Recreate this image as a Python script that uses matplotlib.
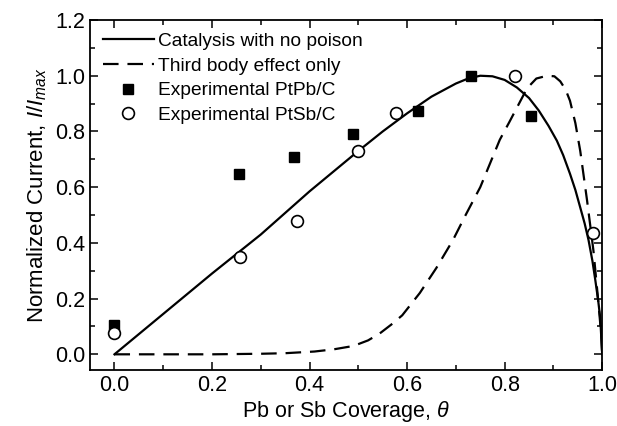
import numpy as np
import matplotlib.pyplot as plt
from matplotlib.ticker import MultipleLocator

plt.rcParams['font.family'] = ['Liberation Sans', 'DejaVu Sans']
plt.rcParams['mathtext.fontset'] = 'custom'
plt.rcParams['mathtext.rm'] = 'Liberation Sans'
plt.rcParams['mathtext.it'] = 'Liberation Sans:italic'

# solid model curve
theta_solid = [0.0, 0.1, 0.2, 0.3, 0.4, 0.5, 0.55, 0.6, 0.65, 0.7, 0.725, 0.75, 0.775,
               0.8, 0.825, 0.85, 0.87, 0.89, 0.907, 0.92, 0.934, 0.945, 0.955, 0.964,
               0.972, 0.98, 0.986, 0.992, 0.996, 1.0]
i_solid = [0.0, 0.145, 0.29, 0.43, 0.585, 0.73, 0.80, 0.865, 0.925, 0.972, 0.990, 1.0, 0.998,
           0.985, 0.958, 0.92, 0.875, 0.82, 0.767, 0.715, 0.648, 0.59, 0.527, 0.47,
           0.41, 0.335, 0.265, 0.19, 0.13, 0.0]

# dashed model curve
theta_dash = [0.0, 0.1, 0.2, 0.3, 0.35, 0.41, 0.45, 0.49, 0.52, 0.544, 0.57, 0.59, 0.626,
              0.66, 0.694, 0.72, 0.75, 0.77, 0.79, 0.81, 0.825, 0.846, 0.865, 0.887,
              0.902, 0.914, 0.925, 0.934, 0.945, 0.955, 0.969, 0.982, 0.992, 0.998, 1.0]
i_dash = [0.0, 0.0, 0.0, 0.002, 0.004, 0.01, 0.018, 0.03, 0.05, 0.075, 0.11, 0.14, 0.22,
          0.31, 0.41, 0.50, 0.60, 0.685, 0.77, 0.835, 0.885, 0.955, 0.99, 1.0,
          0.998, 0.98, 0.95, 0.91, 0.83, 0.73, 0.552, 0.373, 0.19, 0.07, 0.0]

# experimental points
pb_theta = [0.0, 0.255, 0.368, 0.489, 0.622, 0.732, 0.855]
pb_i = [0.105, 0.648, 0.707, 0.791, 0.875, 1.0, 0.857]
sb_theta = [0.0, 0.257, 0.374, 0.50, 0.578, 0.821, 0.982]
sb_i = [0.075, 0.349, 0.478, 0.731, 0.868, 1.0, 0.434]

fig = plt.figure(figsize=(6.17, 4.26), dpi=100)
ax = fig.add_axes([0.146, 0.131, 0.830, 0.822])

ax.plot(theta_solid, i_solid, color='black', lw=1.6, label='Catalysis with no poison')
ax.plot(theta_dash, i_dash, color='black', lw=1.6, dashes=(7, 4),
        label='Third body effect only')
ax.plot(pb_theta, pb_i, 's', color='black', ms=7.5, ls='none',
        label='Experimental PtPb/C', zorder=3)
ax.plot(sb_theta, sb_i, 'o', mfc='white', mec='black', mew=1.2, ms=8.5, ls='none',
        label='Experimental PtSb/C', zorder=3)

ax.set_xlim(-0.05, 1.0)
ax.set_ylim(-0.057, 1.2)
ax.xaxis.set_major_locator(MultipleLocator(0.2))
ax.xaxis.set_minor_locator(MultipleLocator(0.1))
ax.yaxis.set_major_locator(MultipleLocator(0.2))
ax.yaxis.set_minor_locator(MultipleLocator(0.1))
ax.xaxis.set_major_formatter(plt.FormatStrFormatter('%.1f'))
ax.yaxis.set_major_formatter(plt.FormatStrFormatter('%.1f'))
ax.tick_params(which='both', direction='in', top=True, right=True, labelsize=15.5, width=1.1)
ax.tick_params(which='major', length=6)
ax.tick_params(which='minor', length=3.5)
for s in ax.spines.values():
    s.set_linewidth(1.3)

ax.set_xlabel(r'Pb or Sb Coverage, $\it{\theta}$', fontsize=15.5, labelpad=2)
ax.set_ylabel(r'Normalized Current, $I/I_{max}$', fontsize=16, labelpad=4)

ax.legend(loc='upper left', frameon=False, fontsize=13.8, handlelength=2.7,
          handletextpad=0.2, labelspacing=0.38, borderaxespad=0.25,
          bbox_to_anchor=(0.0, 1.0))

fig.savefig('out.png', dpi=100)
